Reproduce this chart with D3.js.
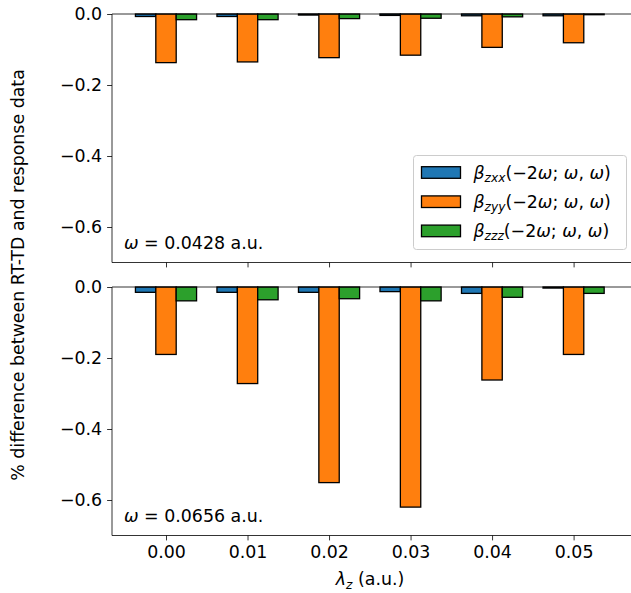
<!DOCTYPE html>
<html>
<head>
<meta charset="utf-8">
<script src="https://cdn.jsdelivr.net/npm/d3@7"></script>
<style>
  body { margin: 0; background: #fff; }
  text { font-family: "DejaVu Sans", sans-serif; }
</style>
</head>
<body>
<div id="chart"></div>
<script>
// data
const lambdas = [0.00, 0.01, 0.02, 0.03, 0.04, 0.05];
const seriesNames = ["zxx", "zyy", "zzz"];
const colors = ["#1f77b4", "#ff7f0e", "#2ca02c"];
const omegaLabels = ["0.0428", "0.0656"];

// top panel (omega = 0.0428)
const topZxx = [-0.007, -0.007, -0.003, -0.004, -0.005, -0.005];
const topZyy = [-0.137, -0.135, -0.123, -0.116, -0.094, -0.081];
const topZzz = [-0.016, -0.016, -0.013, -0.012, -0.008, -0.002];
// bottom panel (omega = 0.0656)
const botZxx = [-0.015, -0.015, -0.015, -0.013, -0.018, -0.003];
const botZyy = [-0.190, -0.272, -0.551, -0.620, -0.262, -0.190];
const botZzz = [-0.039, -0.036, -0.033, -0.039, -0.029, -0.018];

const yTicks = [0, -0.2, -0.4, -0.6];
const xTicks = lambdas;

// constants
const w = 631, h = 593;
const barW = 0.0025;
const fs = 17.4;

let svg = d3.select("#chart")
            .append("svg")
            .attr("width", w)
            .attr("height", h);

let x = d3.scaleLinear()
          .domain([-0.006625, 0.056625])
          .range([112, 627.6]);

const panels = [
  {series: [topZxx, topZyy, topZzz], top: 14, bottom: 262.5, label: omegaLabels[0]},
  {series: [botZxx, botZyy, botZzz], top: 287, bottom: 535.5, label: omegaLabels[1]}
];

panels.forEach((p, pi) => {
  let y = d3.scaleLinear().domain([-0.7, 0]).range([p.bottom, p.top]);
  let g = svg.append("g");

  // bars
  p.series.forEach((vals, si) => {
    g.selectAll(".bar" + si)
     .data(vals)
     .enter()
     .append("rect")
     .attr("x", (d, i) => x(lambdas[i] + (si - 1) * barW - barW / 2))
     .attr("width", x(barW) - x(0))
     .attr("y", y(0))
     .attr("height", d => y(d) - y(0))
     .attr("fill", colors[si])
     .attr("stroke", "#000")
     .attr("stroke-width", 1.3);
  });

  // axes
  let yAxis = d3.axisLeft(y)
                .tickValues(yTicks)
                .tickFormat(d3.format(".1f"))
                .tickSize(4.9)
                .tickPadding(5);
  g.append("g")
   .attr("transform", `translate(${x.range()[0]},0)`)
   .call(yAxis)
   .call(a => a.select(".domain").remove())
   .selectAll("text")
   .attr("font-size", fs)
   .attr("font-family", "DejaVu Sans")
   .attr("fill", "#000");

  let xAxis = d3.axisBottom(x)
                .tickValues(xTicks)
                .tickFormat(pi === 1 ? d3.format(".2f") : "")
                .tickSize(4.9)
                .tickPadding(5);
  g.append("g")
   .attr("transform", `translate(0,${p.bottom})`)
   .call(xAxis)
   .call(a => a.select(".domain").remove())
   .selectAll("text")
   .attr("font-size", fs)
   .attr("font-family", "DejaVu Sans")
   .attr("fill", "#000");

  g.selectAll(".tick line").attr("stroke", "#000").attr("stroke-width", 0.8);

  // frame (top, left, bottom spines)
  g.append("path")
   .attr("d", `M${w},${p.top}H${x.range()[0]}V${p.bottom}H${w}`)
   .attr("fill", "none")
   .attr("stroke", "#000")
   .attr("stroke-width", 0.8);

  // omega annotation
  let t = g.append("text")
           .attr("x", 124)
           .attr("y", p.bottom - 14)
           .attr("font-size", fs);
  t.append("tspan").attr("font-style", "italic").text("ω");
  t.append("tspan").text(" = " + p.label + " a.u.");
});

// legend
let leg = svg.append("g").attr("transform", "translate(413.5,155.5)");
leg.append("rect")
   .attr("width", 213)
   .attr("height", 94)
   .attr("rx", 3)
   .attr("fill", "#fff")
   .attr("fill-opacity", 0.8)
   .attr("stroke", "#ccc")
   .attr("stroke-width", 1);

seriesNames.forEach((name, i) => {
  let cy = 17 + i * 29.2;
  leg.append("rect")
     .attr("x", 8)
     .attr("y", cy - 5.8)
     .attr("width", 39)
     .attr("height", 11.6)
     .attr("fill", colors[i])
     .attr("stroke", "#000")
     .attr("stroke-width", 1.3);
  let t = leg.append("text")
             .attr("x", 60)
             .attr("y", cy + 6)
             .attr("font-size", fs);
  t.append("tspan").attr("font-style", "italic").text("β");
  t.append("tspan").attr("font-style", "italic").attr("font-size", 12.2).attr("dy", 3.5).text(name);
  t.append("tspan").attr("dy", -3.5).text("(−2");
  t.append("tspan").attr("font-style", "italic").text("ω");
  t.append("tspan").text("; ");
  t.append("tspan").attr("font-style", "italic").text("ω");
  t.append("tspan").text(", ");
  t.append("tspan").attr("font-style", "italic").text("ω");
  t.append("tspan").text(")");
});

// axis labels
svg.append("text")
   .attr("transform", "translate(24,275) rotate(-90)")
   .attr("text-anchor", "middle")
   .attr("font-size", fs)
   .text("% difference between RT-TD and response data");

let xl = svg.append("text")
            .attr("x", 370)
            .attr("y", 585)
            .attr("text-anchor", "middle")
            .attr("font-size", fs);
xl.append("tspan").attr("font-style", "italic").text("λ");
xl.append("tspan").attr("font-style", "italic").attr("font-size", 12.2).attr("dy", 3.5).text("z");
xl.append("tspan").attr("dy", -3.5).text(" (a.u.)");
</script>
</body>
</html>
